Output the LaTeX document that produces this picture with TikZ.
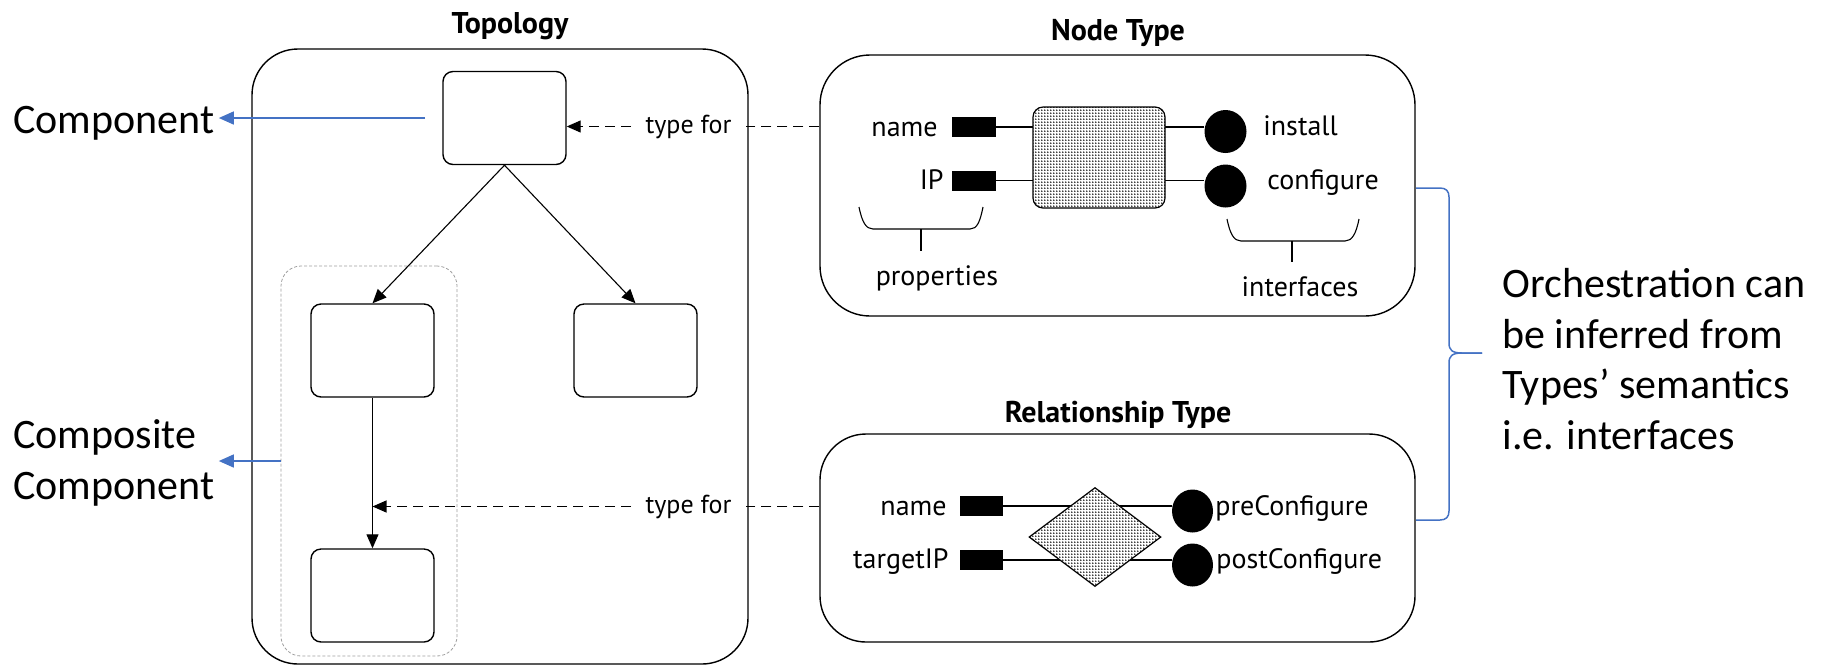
\documentclass[tikz,border=0pt]{standalone}
\usepackage{fontspec}
\setmainfont{PT Sans}
\newfontfamily\calfont{Carlito}
\usetikzlibrary{arrows.meta,shapes.geometric,backgrounds,patterns.meta,calc}
\definecolor{offblue}{RGB}{68,114,196}
\tikzdeclarepattern{
  name=finedots,
  type=uncolored,
  bottom left={(-0.2pt,-0.2pt)},
  top right={(1.8pt,1.8pt)},
  tile size={(1.5pt,1.5pt)},
  code={\pgfpathcircle{\pgfpoint{0.4pt}{0.4pt}}{0.42pt}\pgfusepath{fill}}
}
\begin{document}
\begin{tikzpicture}[x=0.5pt,y=-0.5pt,
  bigbox/.style={draw, line width=0.7pt, rounded corners=23pt, inner sep=0},
  compbox/.style={draw, line width=0.7pt, rounded corners=5pt, minimum width=61.5pt, minimum height=46.5pt, inner sep=0},
  grpbox/.style={draw=gray!75, line width=0.4pt, dash pattern=on 1.5pt off 1pt, rounded corners=10pt, minimum width=88pt, minimum height=195pt, inner sep=0},
  dotted fill/.style={preaction={fill=white}, pattern=finedots, pattern color=black, draw, line width=0.6pt},
  prop/.style={fill=black, minimum width=22pt, minimum height=10pt, inner sep=0},
  iface/.style={ellipse, fill=black, minimum width=21pt, minimum height=21.5pt, inner sep=0},
  lbl/.style={font=\fontsize{14}{16}\selectfont, inner sep=0},
  typelbl/.style={font=\fontsize{13}{15}\selectfont, inner ysep=0, inner xsep=7pt},
  titletext/.style={font=\bfseries\fontsize{15}{18}\selectfont, inner sep=0},
  sidetext/.style={font=\calfont\fontsize{21}{25.25}\selectfont, inner ysep=0, inner xsep=2pt, align=left},
  arr/.style={line width=0.55pt, -{Triangle[length=7pt,width=6pt]}},
  dashline/.style={line width=0.7pt, dash pattern=on 5pt off 3pt},
  bluearrow/.style={draw=offblue, line width=0.75pt, -{Triangle[length=7.5pt,width=6.5pt]}, color=offblue},
  wire/.style={line width=0.55pt},
  bracket/.style={line width=0.55pt},
  bluebrace/.style={draw=offblue, line width=0.75pt}
]
\useasboundingbox (0,0) rectangle (1821,666);

% ---------- titles
\node[titletext, anchor=base] (ttopo) at (510,33) {Topology};
\node[titletext, anchor=base] (tnt) at (1118,40) {Node Type};
\node[titletext, anchor=base] (trt) at (1118,422) {Relationship Type};

% ---------- topology
\node[bigbox, minimum width=248pt, minimum height=307.5pt] (topo) at (500,356.5) {};
\node[grpbox] (cbox) at (369,461) {};
\node[compbox] (top) at (504.5,118) {};
\node[compbox] (lm) at (372.5,350.5) {};
\node[compbox] (rm) at (635.5,350.5) {};
\node[compbox] (bm) at (372.5,595.5) {};
\draw[arr] (top.south) -- (lm.north);
\draw[arr] (top.south) -- (rm.north);
\draw[arr] (lm.south) -- (bm.north);

% ---------- node type
\node[bigbox, rounded corners=25pt, minimum width=297.5pt, minimum height=130.5pt] (ntbox) at (1117.5,185.5) {};
\node[dotted fill, rounded corners=5pt, minimum width=66pt, minimum height=50.5pt, inner sep=0] (ntcore) at (1099,157.5) {};
\node[prop] (pname) at (974,127) {};
\node[prop] (pip) at (974,180.5) {};
\node[iface] (iinst) at (1225.5,131.5) {};
\node[iface] (iconf) at (1225.5,186) {};
\node[lbl, anchor=base east] (tname) at (938,136) {name};
\node[lbl, anchor=base east] (tip) at (944,189) {IP};
\node[lbl, anchor=base west] (tinst) at (1263,135) {install};
\node[lbl, anchor=base west] (tconf) at (1267,189) {configure};
\node[lbl, anchor=base] (tprop) at (937,285) {properties};
\node[lbl, anchor=base] (tintf) at (1300,296) {interfaces};
\draw[bracket] (859,207) .. controls (862,222) and (866,229) .. (873,229) -- (970,229) .. controls (977,229) and (980,222) .. (983,207);
\draw[bracket] (921,229) -- (921,251);
\draw[bracket] (1227,219) .. controls (1230,234) and (1234,241) .. (1241,241) -- (1345,241) .. controls (1352,241) and (1356,234) .. (1359,219);
\draw[bracket] (1292,241) -- (1292,262);

% ---------- relationship type
\node[bigbox, rounded corners=23pt, minimum width=297.5pt, minimum height=104pt] (rtbox) at (1117.5,538) {};
\node[dotted fill, diamond, minimum width=66pt, minimum height=49.5pt, inner sep=0] (rtcore) at (1095,537) {};
\node[prop, minimum width=21.5pt] (rname) at (981.5,506) {};
\node[prop, minimum width=21.5pt] (rtarget) at (981.5,560) {};
\node[iface, minimum width=20.5pt] (ipre) at (1192.5,511) {};
\node[iface, minimum width=20.5pt] (ipost) at (1192.5,565) {};
\node[lbl, anchor=base east] (trname) at (947,515) {name};
\node[lbl, anchor=base east] (trtarget) at (949,568) {targetIP};
\node[lbl, anchor=base west] (tpre) at (1215,515) {preConfigure};
\node[lbl, anchor=base west] (tpost) at (1216,568) {postConfigure};

% ---------- wires behind the cores
\begin{scope}[on background layer]
  \draw[wire] (pname.east) -- (pname.east -| iinst.west);
  \draw[wire] (pip.east) -- (pip.east -| iconf.west);
  \draw[wire] (rname.east) -- (rname.east -| ipre.west);
  \draw[wire] (rtarget.east) -- (rtarget.east -| ipost.west);
\end{scope}

% ---------- "type for" links
\node[typelbl, anchor=base] (tf1) at (688.5,133) {type for};
\node[typelbl, anchor=base] (tf2) at (688.5,513) {type for};
\draw[dashline] (ntbox.west |- tf1.east) -- (tf1.east);
\draw[dashline, arr] (tf1.west) -- (top.east |- tf1.west);
\draw[dashline] (rtbox.west |- tf2.east) -- (tf2.east);
\draw[dashline, arr] (tf2.west) -- (lm.south |- tf2.west);

% ---------- side annotations
\node[sidetext, anchor=base west] (comp) at (9,133) {Component};
\node[sidetext, anchor=base west] (ccomp) at (9,499) {Composite\\Component};
\coordinate (cstart) at (425,118);
\draw[bluearrow] (cstart) -- (comp.east |- cstart);
\draw[bluearrow] (cbox.west) -- (ccomp.east |- cbox.west);

\coordinate (bTop) at (1416,188);
\coordinate (bTip) at (1482,353);
\coordinate (bBot) at (1416,520);
\draw[bluebrace] (bTop) -- (1440,188) .. controls (1446,188) and (1449,191) .. (1449,197) -- (1449,343) .. controls (1449,350) and (1452,353) .. (1462,353) -- (bTip);
\draw[bluebrace] (bTip) -- (1462,353) .. controls (1452,353) and (1449,356) .. (1449,363) -- (1449,511) .. controls (1449,517) and (1446,520) .. (1440,520) -- (bBot);
\node[sidetext, inner sep=0, anchor=base west] (orch) at (1502,449) {Orchestration can\\be inferred from\\Types’ semantics\\i.e. interfaces};
\end{tikzpicture}
\end{document}
